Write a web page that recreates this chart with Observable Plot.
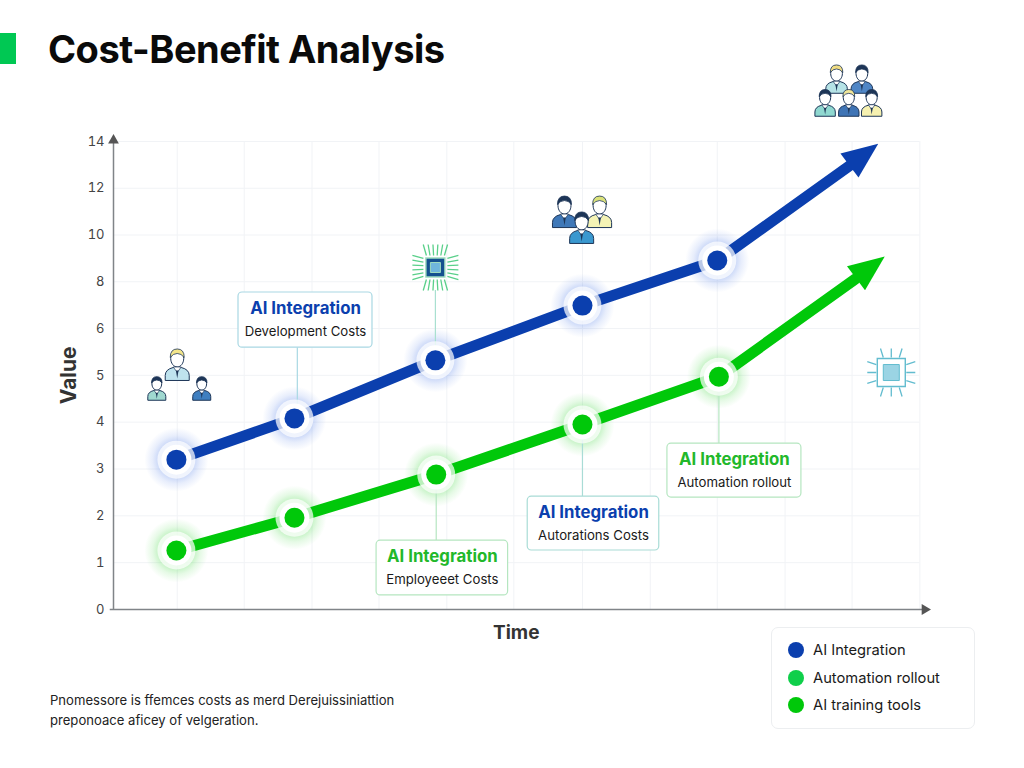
<!DOCTYPE html>
<html><head><meta charset="utf-8">
<script src="https://cdn.jsdelivr.net/npm/d3@7"></script>
<script src="https://cdn.jsdelivr.net/npm/@observablehq/plot@0.6"></script>
<style>
html,body{margin:0;padding:0;background:#fff;width:1024px;height:768px;overflow:hidden;position:relative;font-family:Inter,sans-serif}
#bar{position:absolute;left:0;top:33px;width:16px;height:31px;background:#00c853}
#title{position:absolute;left:48px;top:26px;height:36px;line-height:46px;font-size:38px;font-weight:700;color:#0a0a0a;letter-spacing:-.5px;margin:0;white-space:nowrap}
#chart{position:absolute;left:0;top:62px}
#caption{position:absolute;left:50px;top:690px;font-size:13.1px;line-height:20px;color:#222;white-space:nowrap}
#legend{position:absolute;left:771px;top:627px;width:204px;height:102px;box-sizing:border-box;border:1px solid #eceef0;border-radius:7px;background:#fff}
#legend div{position:absolute;left:41px;font-size:14.7px;line-height:20px;color:#1a1a1a;white-space:nowrap}
#legend i{position:absolute;left:-25px;top:2px;width:16px;height:16px;border-radius:50%}
</style></head><body>
<div id="bar"></div><h1 id="title">Cost-Benefit Analysis</h1>
<div id="chart"></div>
<div id="caption">Pnomessore is ffemces costs as merd Derejuissiniattion<br>preponoace aficey of velgeration.</div>
<div id="legend"></div>
<script>
const BLUE="#0b3fae", GREEN="#00c80a", MID="#0fcf4a", NAVY="#1d3557";
const yTicks=[0,1,2,3,4,5,6,8,10,12,14];
const gridX=[0.78,1.6,2.43,3.25,4.08,4.9,5.74,6.57,7.39,8.22,9.04,9.87];
const blueX=[0.77,2.215,3.94,5.74,7.39,9.02];
const blueY=[3.2,4.08,5.32,6.98,8.91,12.99];
const greenX=[0.77,2.215,3.95,5.74,7.41,9.08];
const greenY=[1.26,1.96,2.88,3.95,4.97,8.12];
const tips=[{x:9.36,y:13.9,c:BLUE},{x:9.44,y:9.08,c:GREEN}];
const callouts=[
 {x1:1.53,x2:3.17,y1:5.59,y2:7.54,head:"AI Integration",sub:"Development Costs",c:BLUE,b:"#a9d8e3"},
 {x1:3.22,x2:4.83,y1:0.3,y2:1.47,head:"AI Integration",sub:"Employeeet Costs",c:"#22b82a",b:"#b5e6c0"},
 {x1:5.07,x2:6.68,y1:1.26,y2:2.41,head:"AI Integration",sub:"Autorations Costs",c:BLUE,b:"#a9dcd6"},
 {x1:6.78,x2:8.42,y1:2.39,y2:3.54,head:"AI Integration",sub:"Automation rollout",c:"#22b82a",b:"#b5e6c0"}
];
const leaders=[
 {x:2.25,y1:4.08,y2:5.59,c:"#a9d8e3"},
 {x:3.95,y1:2.88,y2:1.47,c:"#b5e6c0"},
 {x:5.74,y1:3.95,y2:2.41,c:"#a9dcd6"},
 {x:7.41,y1:4.97,y2:3.54,c:"#b5e6c0"},
 {x:3.94,y1:5.32,y2:7.63,c:"#a9e0d0"}
];
const people=[
 {x:.78,y:5.36,s:1,body:"#bfe3ee",hair:"#f3e58a"},
 {x:.53,y:4.82,s:.75,body:"#9fd8d0",hair:NAVY},
 {x:1.08,y:4.82,s:.75,body:"#3f7fc0",hair:NAVY},
 {x:5.52,y:11.26,s:1,body:"#3f78b8",hair:NAVY},
 {x:5.95,y:11.26,s:1,body:"#f4f3b5",hair:"#dbe27a"},
 {x:5.73,y:10.58,s:1,body:"#3a98cf",hair:NAVY},
 {x:8.85,y:16.91,s:.9,body:"#b5e3e6",hair:"#f0dc82"},
 {x:9.16,y:16.91,s:.9,body:"#4f86c6",hair:NAVY},
 {x:8.71,y:15.88,s:.85,body:"#8fd8d0",hair:NAVY},
 {x:9,y:15.88,s:.85,body:"#3f74b5",hair:"#f0e69a"},
 {x:9.28,y:15.88,s:.85,body:"#f6f1b0",hair:NAVY}
];
const chips=[
 {x:3.94,y:8.61,pin:"#5ad08a",rim:"#9fdcc0",core:"#14508f",inner:"#6fb6dc",k:9.5,j:5,offs:[-9,-5.4,-1.8,1.8,5.4,9],from:12,to:23},
 {x:9.52,y:5.06,pin:"#62bccf",rim:"#62bccf",core:"#ffffff",inner:"#9bd4e4",k:14,j:8,offs:[-8,0,8],from:15,to:24}
];
const legendItems=[["AI Integration",BLUE],["Automation rollout",MID],["AI training tools",GREEN]];

const pts=(xs,ys)=>xs.map((x,i)=>({x,y:ys[i]}));
const blue=pts(blueX,blueY), green=pts(greenX,greenY);
const sym=f=>({draw(c,size){f(c,Math.sqrt(size/Math.PI));}});
const headTri=sym((c,s)=>{c.moveTo(0,0);c.lineTo(-15*s,36*s);c.lineTo(15*s,36*s);c.closePath();});
const body=sym((c,s)=>{c.moveTo(-12*s,22*s);c.lineTo(-12*s,17*s);c.quadraticCurveTo(-12*s,11*s,-4*s,9*s);c.lineTo(4*s,9*s);c.quadraticCurveTo(12*s,11*s,12*s,17*s);c.lineTo(12*s,22*s);c.closePath();});
const head=sym((c,s)=>{const a=6.5*s,b=8.5*s,p=.55;c.moveTo(a,0);c.bezierCurveTo(a,p*b,p*a,b,0,b);c.bezierCurveTo(-p*a,b,-a,p*b,-a,0);c.bezierCurveTo(-a,-p*b,-p*a,-b,0,-b);c.bezierCurveTo(p*a,-b,a,-p*b,a,0);c.closePath();});
const hair=sym((c,s)=>{c.moveTo(-7*s,-1*s);c.quadraticCurveTo(-7*s,-9.5*s,0,-9.5*s);c.quadraticCurveTo(7*s,-9.5*s,7*s,-1*s);c.quadraticCurveTo(4*s,-5*s,0,-5*s);c.quadraticCurveTo(-4*s,-5*s,-7*s,-1*s);c.closePath();});
const collar=sym((c,s)=>{c.moveTo(-4*s,8.5*s);c.lineTo(4*s,8.5*s);c.lineTo(0,14*s);c.closePath();});
const tie=sym((c,s)=>{c.moveTo(-1.3*s,12*s);c.lineTo(1.3*s,12*s);c.lineTo(0,20*s);c.closePath();});
const square=k=>sym((c,s)=>{c.rect(-k*s,-k*s,2*k*s,2*k*s);});
const pins=(offs,from,to)=>sym((c,s)=>{for(const a of offs)for(const g of [1,-1]){c.moveTo(a*s,g*from*s);c.lineTo(a*1.35*s,g*to*s);c.moveTo(g*from*s,a*s);c.lineTo(g*to*s,a*1.35*s);}});
const person=p=>{const o={x:"x",y:"y",r:p.s};return[
 Plot.dot([p],{...o,symbol:body,fill:p.body,stroke:NAVY,strokeWidth:1}),
 Plot.dot([p],{...o,symbol:head,fill:"#fff",stroke:NAVY,strokeWidth:1}),
 Plot.dot([p],{...o,symbol:collar,fill:"#fff",stroke:NAVY,strokeWidth:.7}),
 Plot.dot([p],{...o,symbol:tie,fill:NAVY}),
 Plot.dot([p],{...o,symbol:hair,fill:p.hair,stroke:NAVY,strokeWidth:.8})];};
const chip=p=>{const o={x:"x",y:"y",r:1};return[
 Plot.dot([p],{...o,symbol:pins(p.offs,p.from,p.to),fill:"none",stroke:p.pin,strokeWidth:1.3}),
 Plot.dot([p],{...o,symbol:square(p.k),fill:p.core,stroke:p.rim,strokeWidth:1.4}),
 Plot.dot([p],{...o,symbol:square(p.j),fill:p.inner,stroke:p.rim,strokeWidth:1})];};
const nodes=(d,c)=>[
 Plot.dot(d,{x:"x",y:"y",r:19,fill:"#fff",fillOpacity:.72}),
 Plot.dot(d,{x:"x",y:"y",r:15,fill:"#fff"}),
 Plot.dot(d,{x:"x",y:"y",r:10,fill:c})];

const W=1024,H=590;
const plot=Plot.plot({
 width:W,height:H,marginLeft:113,marginRight:94,marginTop:79,marginBottom:43,
 style:{fontFamily:"Inter, sans-serif",background:"transparent"},
 x:{domain:[0,10],axis:null},
 y:{type:"linear",domain:[0,6,14],range:[547,266,79],axis:null},
 marks:[
  Plot.ruleY(yTicks.slice(1),{x1:0,x2:9.87,stroke:"#f1f3f6",strokeWidth:1}),
  Plot.ruleX(gridX,{y1:0,y2:14,stroke:"#f1f3f6",strokeWidth:1}),
  Plot.axisY({ticks:yTicks,tickSize:0,tickPadding:9,fontSize:13,color:"#444",label:null,tickFormat:d=>d}),
  Plot.ruleX([0],{y1:0,y2:14.05,stroke:"#808488",strokeWidth:1.5}),
  Plot.ruleY([0],{x1:-.04,x2:9.93,stroke:"#808488",strokeWidth:1.5}),
  Plot.dot([{x:0,y:14.05}],{x:"x",y:"y",symbol:"triangle",r:4,fill:"#555"}),
  Plot.dot([{x:9.93,y:0}],{x:"x",y:"y",symbol:"triangle",r:4,rotate:90,fill:"#555"}),
  Plot.text(["Time"],{x:()=>4.93,y:()=>-.51,text:d=>d,fontSize:19,fontWeight:700,fill:"#333"}),
  Plot.text(["Value"],{x:()=>-.54,y:()=>5,text:d=>d,fontSize:21,fontWeight:700,fill:"#333",rotate:-90}),
  Plot.dot(blue.slice(0,5),{x:"x",y:"y",r:32,fill:"url(#glowBlue)"}),
  Plot.dot(green.slice(0,5),{x:"x",y:"y",r:32,fill:"url(#glowGreen)"}),
  ...leaders.map(l=>Plot.ruleX([l],{x:"x",y1:"y1",y2:"y2",stroke:l.c,strokeWidth:1.2})),
  Plot.line(blue,{x:"x",y:"y",stroke:BLUE,strokeWidth:11}),
  Plot.line(green,{x:"x",y:"y",stroke:GREEN,strokeWidth:11}),
  ...tips.map(t=>Plot.dot([t],{x:"x",y:"y",r:1,symbol:headTri,rotate:53,fill:t.c})),
  ...nodes(blue.slice(0,5),BLUE),
  ...nodes(green.slice(0,5),GREEN),
  ...callouts.map(b=>Plot.rect([b],{x1:"x1",x2:"x2",y1:"y1",y2:"y2",fill:"#fff",stroke:b.b,strokeWidth:1.2,rx:4})),
  ...callouts.map(b=>Plot.text([b],{x:d=>(d.x1+d.x2)/2,y:"y2",text:"head",dy:16,fontSize:16.8,fontWeight:700,fill:b.c})),
  ...callouts.map(b=>Plot.text([b],{x:d=>(d.x1+d.x2)/2,y:"y2",text:"sub",dy:39,fontSize:13.2,fill:"#1a1a1a"})),
  ...people.flatMap(person),
  ...chips.flatMap(chip)
 ]
});
const defs=d3.select(plot).append("defs");
[["glowBlue","#4a78e6"],["glowGreen","#3ad63a"]].forEach(([id,c])=>{
 const g=defs.append("radialGradient").attr("id",id);
 [[0,.35],[.55,.3],[.75,.13],[1,0]].forEach(([o,a])=>g.append("stop").attr("offset",o).attr("stop-color",c).attr("stop-opacity",a));
});
document.getElementById("chart").append(plot);
const lg=document.getElementById("legend");
legendItems.forEach(([t,c],i)=>{
 const d=document.createElement("div");d.style.top=(12+i*27.5)+"px";d.textContent=t;
 const m=document.createElement("i");m.style.background=c;d.prepend(m);lg.append(d);
});
</script>
</body></html>
